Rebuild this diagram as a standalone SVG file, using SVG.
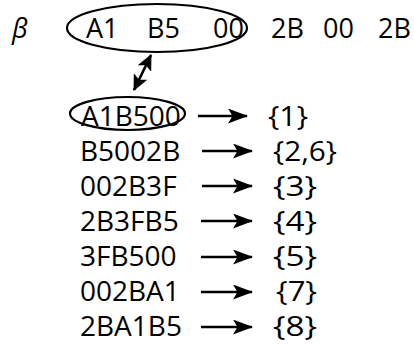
<svg xmlns="http://www.w3.org/2000/svg" width="414" height="351" viewBox="0 0 414 351">
  <style>
    text { font-family: "Open Sans", "Noto Sans", sans-serif; font-size: 27px; fill: #000; }
    .row { font-size: 28px; }
    .set { font-size: 28px; }
    .ring { fill: none; stroke: #000; stroke-width: 2.2; }
    .link { fill: none; stroke: #000; stroke-width: 2.6; }
  </style>
  <defs>
    <marker id="head" viewBox="0 0 16 15" refX="15" refY="7.5" markerWidth="16" markerHeight="15" markerUnits="userSpaceOnUse" orient="auto-start-reverse">
      <path d="M0,0 L16,7.5 L0,15 L3.5,7.5 Z" fill="#000"/>
    </marker>
    <marker id="tip" viewBox="0 0 20 15" refX="19" refY="7.5" markerWidth="20" markerHeight="15" markerUnits="userSpaceOnUse" orient="auto">
      <path d="M0,0 L20,7.5 L0,15 L4.5,7.5 Z" fill="#000"/>
    </marker>
  </defs>

  <!-- byte sequence -->
  <g id="sequence">
    <text x="12" y="38" font-style="italic">β</text>
    <text x="86" y="38">A1</text>
    <text x="147" y="38">B5</text>
    <text x="213" y="38">00</text>
    <text x="271" y="38">2B</text>
    <text x="323" y="38">00</text>
    <text x="378" y="38">2B</text>
    <ellipse class="ring" cx="157" cy="28" rx="90" ry="24"/>
  </g>

  <!-- window list -->
  <g id="w1"><ellipse class="ring" cx="127.5" cy="113.5" rx="57.5" ry="16.5"/><text class="row" x="81" y="126">A1B500</text><text class="set" x="268" y="126" textLength="40" lengthAdjust="spacingAndGlyphs">{1}</text></g>
  <g id="w2"><text class="row" x="80" y="161">B5002B</text><text class="set" x="273" y="161" textLength="64" lengthAdjust="spacingAndGlyphs">{2,6}</text></g>
  <g id="w3"><text class="row" x="80" y="196">002B3F</text><text class="set" x="273" y="196" textLength="44" lengthAdjust="spacingAndGlyphs">{3}</text></g>
  <g id="w4"><text class="row" x="80" y="231">2B3FB5</text><text class="set" x="273" y="231" textLength="44" lengthAdjust="spacingAndGlyphs">{4}</text></g>
  <g id="w5"><text class="row" x="80" y="266">3FB500</text><text class="set" x="273" y="266" textLength="44" lengthAdjust="spacingAndGlyphs">{5}</text></g>
  <g id="w6"><text class="row" x="80" y="301">002BA1</text><text class="set" x="276" y="301" textLength="41" lengthAdjust="spacingAndGlyphs">{7}</text></g>
  <g id="w7"><text class="row" x="80" y="336">2BA1B5</text><text class="set" x="273" y="336" textLength="44" lengthAdjust="spacingAndGlyphs">{8}</text></g>

  <!-- connectors -->
  <g id="connectors">
    <line class="link" x1="151" y1="55" x2="134" y2="90" marker-start="url(#head)" marker-end="url(#head)"/>
    <line class="link" x1="198" y1="116" x2="247" y2="116" marker-end="url(#tip)"/>
    <line class="link" x1="202" y1="151" x2="252" y2="151" marker-end="url(#tip)"/>
    <line class="link" x1="202" y1="186" x2="252" y2="186" marker-end="url(#tip)"/>
    <line class="link" x1="201" y1="221" x2="252" y2="221" marker-end="url(#tip)"/>
    <line class="link" x1="201" y1="257" x2="252" y2="257" marker-end="url(#tip)"/>
    <line class="link" x1="201" y1="292" x2="252" y2="292" marker-end="url(#tip)"/>
    <line class="link" x1="201" y1="327" x2="252" y2="327" marker-end="url(#tip)"/>
  </g>
</svg>
